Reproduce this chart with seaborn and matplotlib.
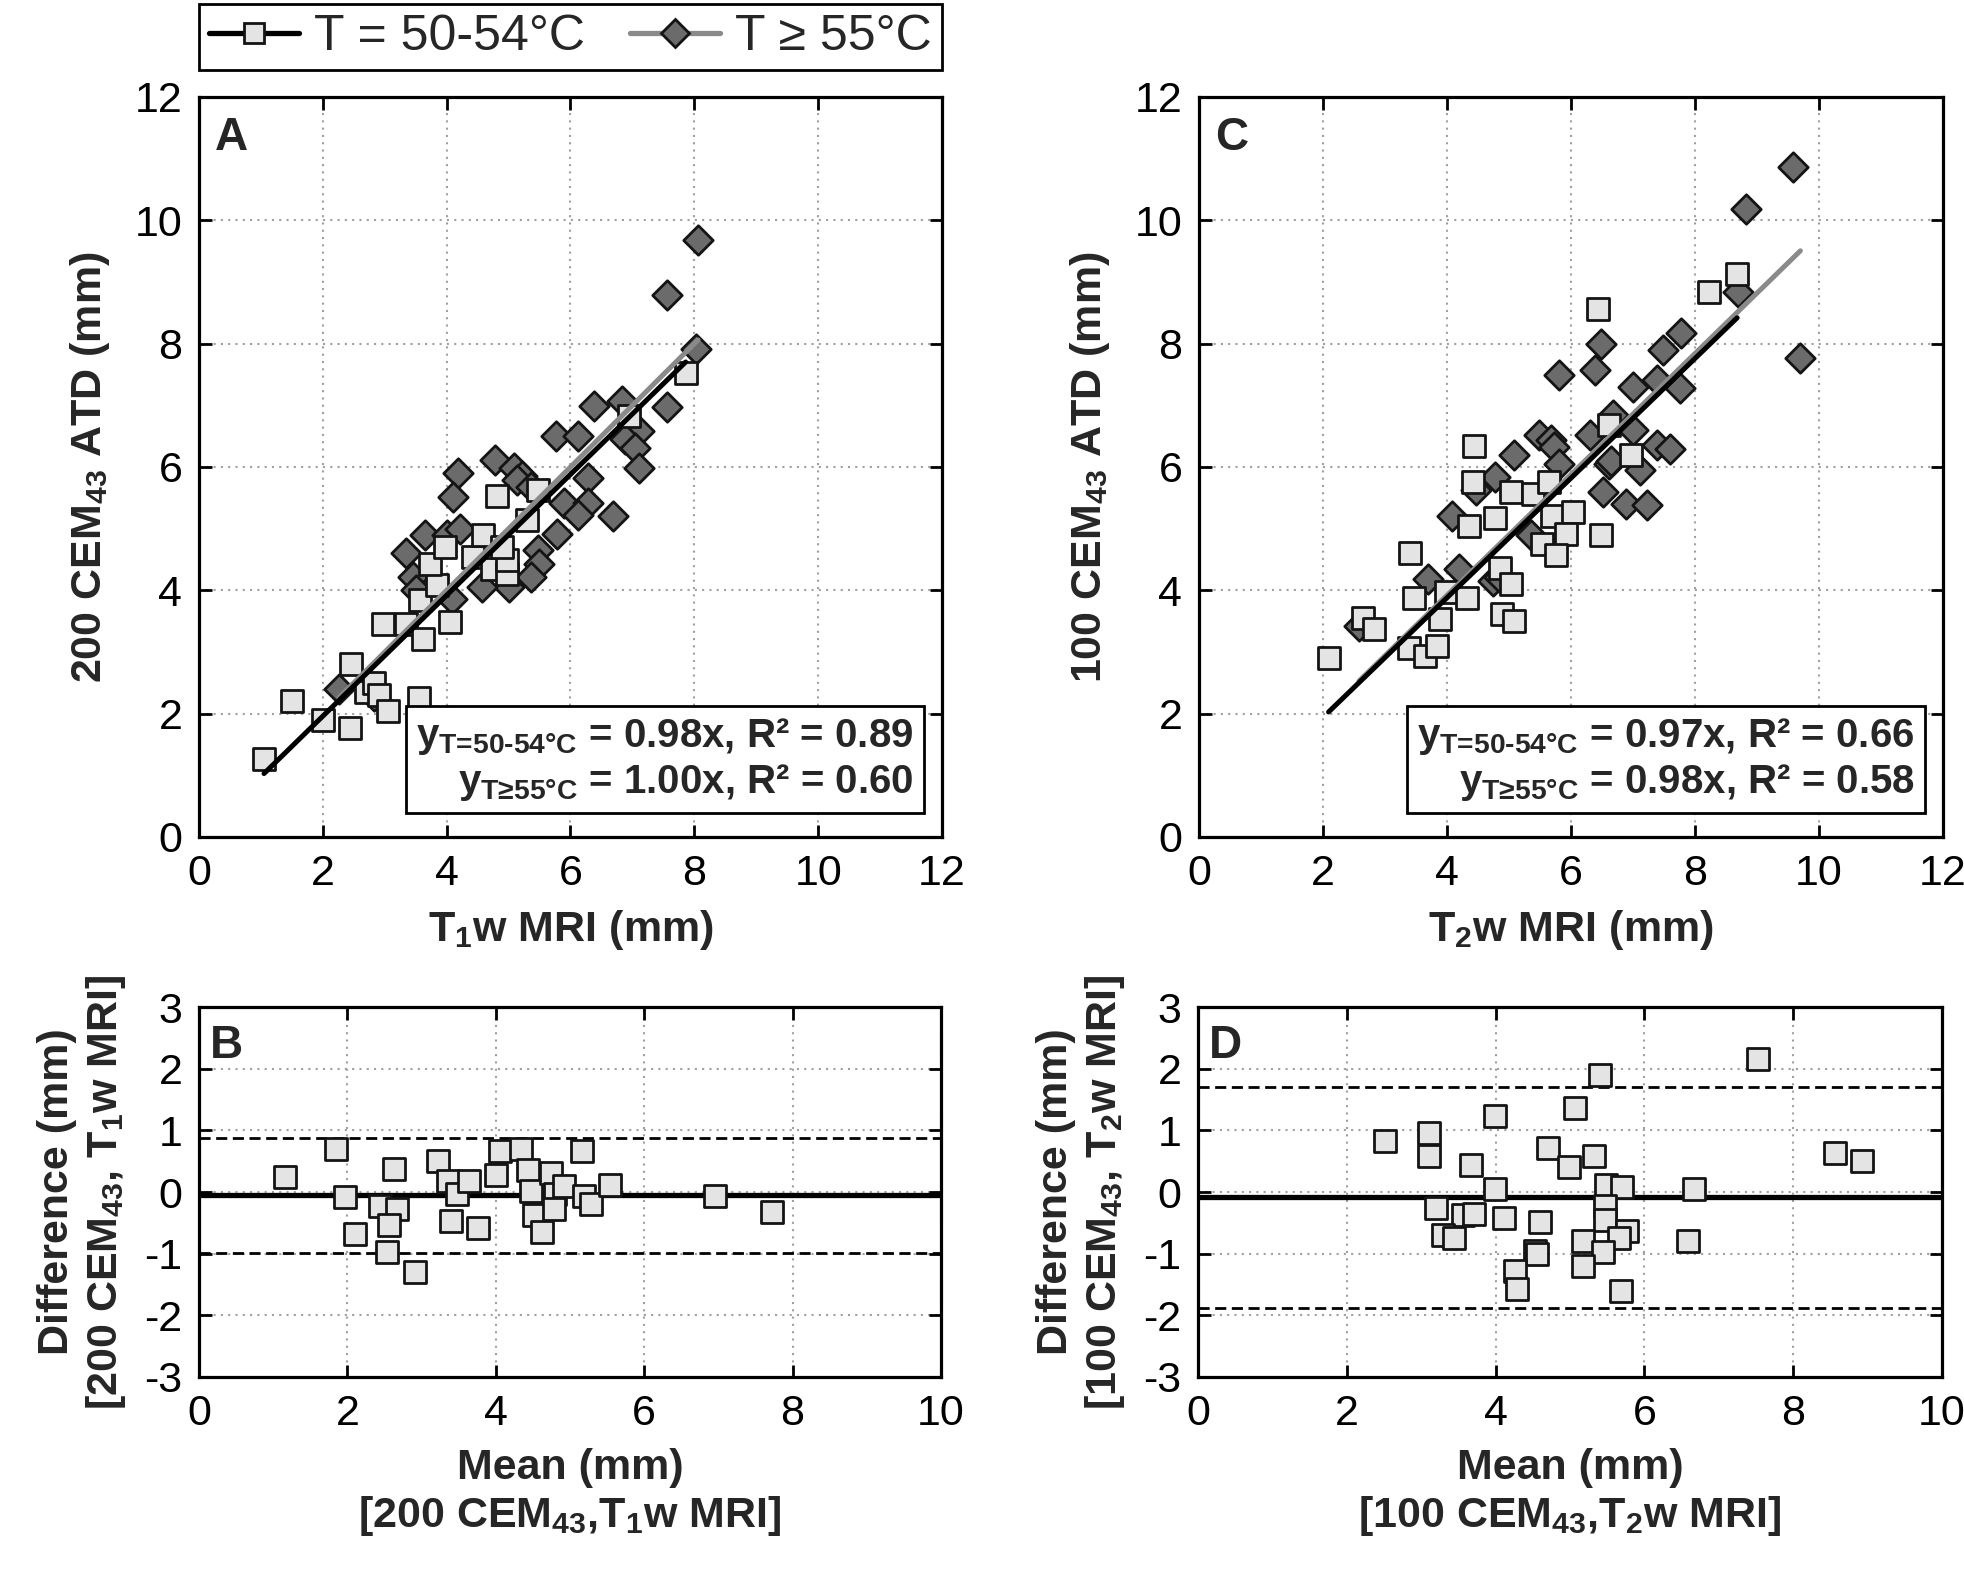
import matplotlib
matplotlib.use('Agg')

import matplotlib.pyplot as plt
from matplotlib.lines import Line2D
import seaborn as sns
import numpy as np

# ---- panel A: 200 CEM43 ATD vs T1w MRI ----
a_low_x = [1.05, 1.5, 2.0, 2.44, 2.46, 2.7, 2.82, 2.9, 3.05, 3.55, 2.97, 3.35, 3.62, 3.57,
           4.05, 3.84, 3.73, 3.97, 4.43, 4.59, 4.73, 4.98, 4.98, 4.82, 5.47, 5.3, 4.9, 6.94, 7.86]
a_low_y = [1.27, 2.2, 1.9, 1.76, 2.81, 2.35, 2.49, 2.3, 2.04, 2.26, 3.45, 3.46, 3.21, 3.84,
           3.48, 4.08, 4.42, 4.71, 4.54, 4.9, 4.35, 4.27, 4.49, 5.53, 5.63, 5.14, 4.7, 6.82, 7.52]
a_high_x = [2.26, 2.82, 3.35, 3.65, 3.46, 4.0, 4.22, 4.08, 4.19, 4.11, 4.78, 5.09, 5.22, 5.14,
            5.36, 5.77, 6.12, 6.38, 6.83, 7.56, 7.1, 6.88, 7.04, 7.1, 6.28, 5.9, 6.28, 6.12,
            6.69, 5.79, 5.47, 5.49, 5.36, 5.0, 4.57, 3.5, 7.56, 8.06, 8.02]
a_high_y = [2.4, 2.28, 4.6, 4.9, 4.22, 4.9, 5.0, 3.86, 5.9, 5.52, 6.12, 5.98, 5.85, 5.79,
            5.68, 6.51, 6.51, 6.99, 7.07, 6.98, 6.58, 6.45, 6.31, 5.98, 5.82, 5.41, 5.41, 5.22,
            5.2, 4.92, 4.65, 4.43, 4.22, 4.05, 4.05, 4.0, 8.79, 9.68, 7.91]
a_slopes = [0.98, 1.00]
a_r2 = [0.89, 0.60]

# ---- panel C: 100 CEM43 ATD vs T2w MRI ----
c_low_x = [2.09, 2.64, 2.82, 3.38, 3.41, 3.46, 3.64, 3.84, 3.89, 3.99, 4.32, 4.43, 4.42, 4.35,
           4.78, 4.86, 5.03, 4.89, 5.08, 5.03, 5.38, 5.65, 5.7, 6.03, 5.54, 5.92, 5.76, 6.49,
           6.62, 6.97, 6.43, 8.23, 8.68]
c_low_y = [2.91, 3.55, 3.38, 3.07, 4.61, 3.88, 2.93, 3.09, 3.53, 3.98, 3.88, 6.34, 5.76, 5.05,
           5.18, 4.37, 4.1, 3.61, 3.5, 5.59, 5.57, 5.76, 5.21, 5.27, 4.75, 4.91, 4.58, 4.89,
           6.68, 6.19, 8.57, 8.84, 9.13]
c_high_x = [2.58, 3.7, 4.19, 4.08, 4.46, 4.78, 4.75, 4.84, 5.35, 5.49, 5.08, 5.68, 5.72, 5.81,
            5.81, 6.38, 6.49, 6.3, 6.68, 7.0, 6.62, 6.64, 7.11, 7.0, 7.38, 7.38, 7.59, 7.49,
            7.76, 7.78, 6.51, 6.89, 7.22, 8.7, 8.82, 9.58, 9.7]
c_high_y = [3.42, 4.18, 4.34, 5.21, 5.62, 5.84, 4.15, 4.21, 4.9, 6.52, 6.19, 6.43, 6.33, 6.05,
            7.49, 7.58, 8.0, 6.52, 6.84, 6.6, 6.05, 6.09, 5.95, 7.3, 7.41, 6.35, 6.3, 7.9,
            7.28, 8.17, 5.59, 5.4, 5.38, 8.84, 10.18, 10.87, 7.77]
c_slopes = [0.97, 0.98]
c_r2 = [0.66, 0.58]

# ---- panel B: Bland-Altman 200 CEM43 vs T1w ----
b_mean = [1.16, 1.85, 1.97, 2.1, 2.44, 2.63, 2.67, 2.56, 2.54, 2.91, 3.22, 3.36, 3.48, 3.64,
          3.4, 3.76, 4.0, 4.05, 4.34, 4.43, 4.48, 4.52, 4.62, 4.74, 4.8, 4.78, 4.92, 5.16,
          5.19, 5.28, 5.54, 6.95, 7.72]
b_diff = [0.25, 0.7, -0.08, -0.68, -0.23, 0.37, -0.28, -0.53, -0.98, -1.3, 0.5, 0.18, -0.03, 0.18,
          -0.47, -0.58, 0.27, 0.67, 0.7, 0.35, 0.02, -0.38, -0.65, 0.31, -0.03, -0.28, 0.1, 0.67,
          -0.07, -0.19, 0.12, -0.07, -0.32]
b_bias = -0.05
b_loa = [0.88, -0.99]

# ---- panel D: Bland-Altman 100 CEM43 vs T2w ----
d_mean = [2.52, 3.11, 3.11, 3.67, 3.99, 3.99, 3.2, 3.56, 3.71, 3.29, 3.44, 4.11, 4.6, 4.53,
          4.56, 4.26, 4.29, 4.7, 5.07, 4.99, 5.32, 5.4, 5.48, 5.7, 5.47, 5.47, 5.77, 5.66,
          5.17, 5.44, 5.17, 5.68, 6.66, 6.59, 7.53, 8.56, 8.92]
d_diff = [0.83, 0.95, 0.59, 0.43, 1.23, 0.05, -0.26, -0.38, -0.35, -0.7, -0.75, -0.42, -0.49, -0.95,
          -1.0, -1.28, -1.58, 0.72, 1.36, 0.41, 0.59, 1.9, 0.11, 0.08, -0.22, -0.46, -0.63, -0.74,
          -0.79, -0.98, -1.2, -1.6, 0.05, -0.79, 2.16, 0.64, 0.5]
d_bias = -0.08
d_loa = [1.70, -1.88]

labels = ['T = 50-54\u00b0C', 'T \u2265 55\u00b0C']
sub_labels = ['T=50-54\u00b0C', 'T\u226555\u00b0C']

LIGHT = '#e4e4e4'
DARK = '#6b6b6b'
EDGE = '#141414'
GRAY_LINE = '#8a8a8a'

sns.set_style('ticks')
plt.rcParams['font.family'] = ['Liberation Sans', 'DejaVu Sans']
plt.rcParams['axes.unicode_minus'] = False
plt.rcParams['mathtext.fontset'] = 'custom'
plt.rcParams['mathtext.rm'] = 'Liberation Sans:bold'
plt.rcParams['mathtext.it'] = 'Liberation Sans:bold'
plt.rcParams['mathtext.bf'] = 'Liberation Sans:bold'
plt.rcParams['mathtext.default'] = 'rm'

fig = plt.figure(figsize=(19.65, 15.72), dpi=100)
W, H = 1965.0, 1572.0


def place(left, top, right, bottom):
    return fig.add_axes([left / W, 1 - bottom / H, (right - left) / W, (bottom - top) / H])


ax_a = place(199, 97, 942, 837)
ax_c = place(1199, 97, 1943, 837)
ax_b = place(199, 1007, 941, 1377)
ax_d = place(1198, 1007, 1942, 1377)


def style(ax, xmax, ylim, yticks):
    ax.set_xlim(0, xmax)
    ax.set_ylim(*ylim)
    ax.set_xticks(np.arange(0, xmax + 1, 2))
    ax.set_yticks(yticks)
    ax.grid(True, linestyle=(0, (1, 2.5)), color='#a0a0a0', linewidth=1.5)
    ax.set_axisbelow(True)
    ax.tick_params(direction='in', top=True, right=True, length=9, width=2,
                   labelsize=31, pad=12, colors='black')
    for sp in ax.spines.values():
        sp.set_visible(True)
        sp.set_linewidth(2.3)
        sp.set_color('black')


def scatter_panel(ax, lx, ly, hx, hy, slopes, r2, letter, xlabel, ylabel):
    sns.scatterplot(x=hx, y=hy, marker='D', s=225, color=DARK, edgecolor=EDGE,
                    linewidth=2, ax=ax, zorder=3)
    sns.scatterplot(x=lx, y=ly, marker='s', s=255, color=LIGHT, edgecolor=EDGE,
                    linewidth=2, ax=ax, zorder=3)
    hxs = np.array([min(hx), max(hx)])
    lxs = np.array([min(lx), max(lx)])
    sns.lineplot(x=hxs, y=slopes[1] * hxs, color=GRAY_LINE, linewidth=3.6, ax=ax, zorder=4)
    sns.lineplot(x=lxs, y=slopes[0] * lxs, color='black', linewidth=3.6, ax=ax, zorder=5)
    style(ax, 12, (0, 12), np.arange(0, 13, 2))
    eq = ('y$_{\\text{%s}}$ = %.2fx, R\u00b2 = %.2f\n' % (sub_labels[0], slopes[0], r2[0]) +
          'y$_{\\text{%s}}$ = %.2fx, R\u00b2 = %.2f' % (sub_labels[1], slopes[1], r2[1]))
    ax.text(0.962, 0.046, eq, transform=ax.transAxes, ha='right', va='bottom',
            multialignment='right', fontsize=29, fontweight='bold', zorder=6,
            linespacing=1.15,
            bbox=dict(boxstyle='square,pad=0.25', fc='white', ec='black', lw=2))
    ax.text(0.022, 0.975, letter, transform=ax.transAxes, ha='left', va='top',
            fontsize=33, fontweight='bold')
    ax.set_xlabel(xlabel, fontsize=31, fontweight='bold', labelpad=10)
    ax.set_ylabel(ylabel, fontsize=31, fontweight='bold', labelpad=16)


def ba_panel(ax, mx, dy, bias, loa, letter, xlabel, ylabel):
    sns.scatterplot(x=mx, y=dy, marker='s', s=255, color=LIGHT, edgecolor=EDGE,
                    linewidth=2, ax=ax, zorder=3)
    ax.axhline(bias, color='black', linewidth=3.8, zorder=2)
    for v in loa:
        ax.axhline(v, color='black', linewidth=2, linestyle=(0, (4, 2)), zorder=2)
    style(ax, 10, (-3, 3), np.arange(-3, 4, 1))
    ax.text(0.015, 0.955, letter, transform=ax.transAxes, ha='left', va='top',
            fontsize=33, fontweight='bold')
    ax.set_xlabel(xlabel, fontsize=31, fontweight='bold', labelpad=10)
    ax.set_ylabel(ylabel, fontsize=31, fontweight='bold', labelpad=12)


scatter_panel(ax_a, a_low_x, a_low_y, a_high_x, a_high_y, a_slopes, a_r2, 'A',
              'T$_{1}$w MRI (mm)', '200 CEM$_{43}$ ATD (mm)')
scatter_panel(ax_c, c_low_x, c_low_y, c_high_x, c_high_y, c_slopes, c_r2, 'C',
              'T$_{2}$w MRI (mm)', '100 CEM$_{43}$ ATD (mm)')
ba_panel(ax_b, b_mean, b_diff, b_bias, b_loa, 'B',
         'Mean (mm)\n[200 CEM$_{43}$,T$_{1}$w MRI]',
         'Difference (mm)\n[200 CEM$_{43}$, T$_{1}$w MRI]')
ba_panel(ax_d, d_mean, d_diff, d_bias, d_loa, 'D',
         'Mean (mm)\n[100 CEM$_{43}$,T$_{2}$w MRI]',
         'Difference (mm)\n[100 CEM$_{43}$, T$_{2}$w MRI]')

handles = [
    Line2D([], [], color='black', lw=3.8, marker='s', ms=15, mfc=LIGHT, mec=EDGE, mew=2),
    Line2D([], [], color=GRAY_LINE, lw=3.8, marker='D', ms=14, mfc=DARK, mec=EDGE, mew=2),
]
leg = fig.legend(handles, labels, loc='upper left', ncol=2, mode='expand',
                 bbox_to_anchor=(199 / W, 1 - 78 / H, 743 / W, 74 / H),
                 fontsize=36, frameon=True, fancybox=False, framealpha=1,
                 handlelength=1.8, handletextpad=0.3, borderpad=0.2, columnspacing=0.8,
                 borderaxespad=0)
leg.get_frame().set_edgecolor('black')
leg.get_frame().set_linewidth(2)

fig.savefig('out.png', dpi=100)
